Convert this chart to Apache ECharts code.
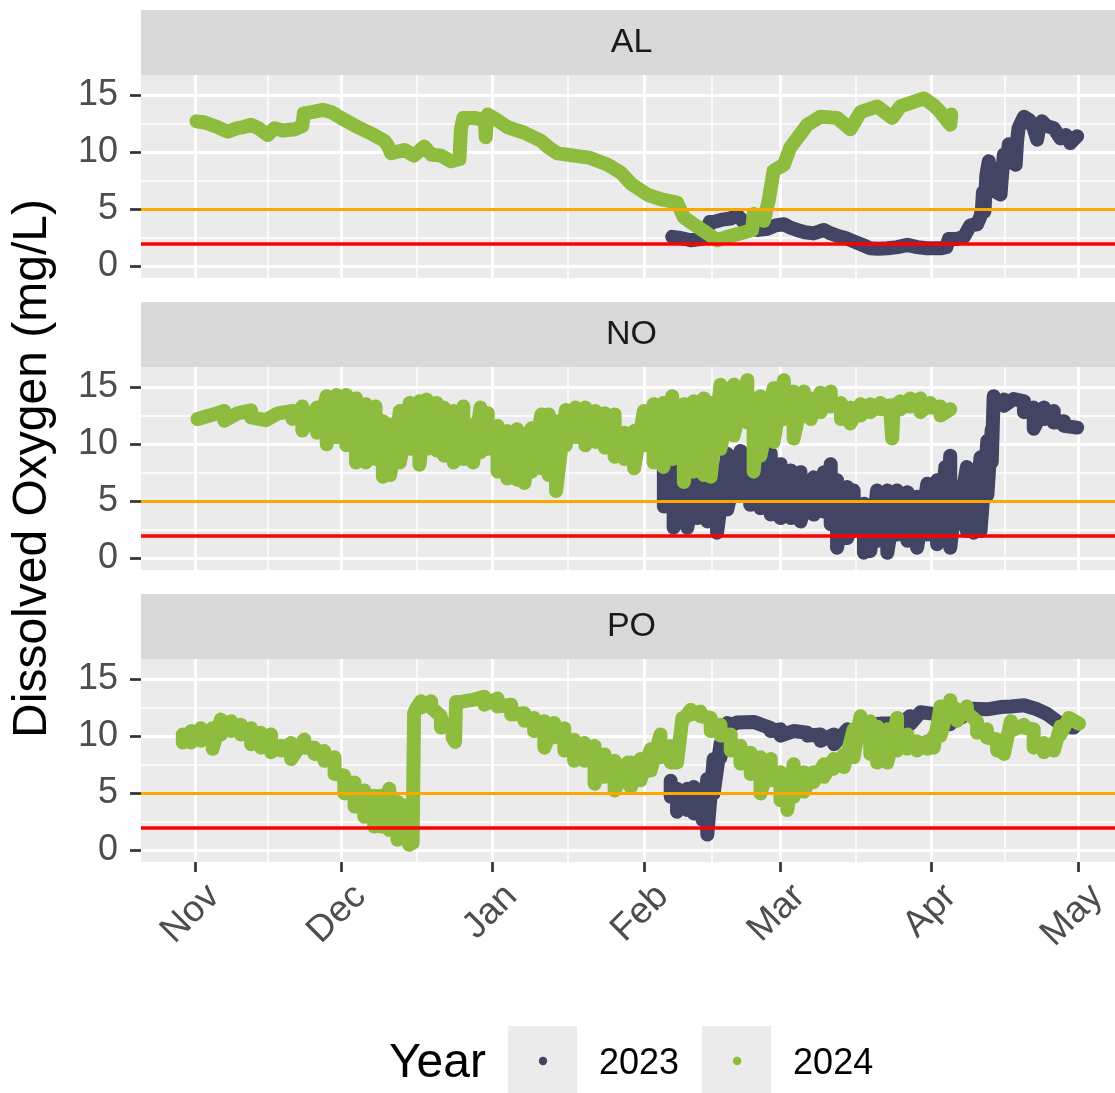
<!DOCTYPE html>
<html>
<head>
<meta charset="utf-8">
<title>Dissolved oxygen by site</title>
<script src="https://cdn.jsdelivr.net/npm/echarts@6/dist/echarts.min.js"></script>
<style>
  html, body { margin: 0; padding: 0; background: #ffffff; }
  #chart { width: 1115px; height: 1093px; }
</style>
</head>
<body>
<div id="chart"></div>
<script>
// Time is measured in days since 1 November (non-leap season calendar).
// Readings are [day, value] for a single trace, or [day, high, low] where the
// logger record swings between a high and a low within the same day.

const sites = ['AL', 'NO', 'PO'];
const years = ['2023', '2024'];
const yearColors = ['#414563', '#8DBC3E'];

const monthNames = ['Nov', 'Dec', 'Jan', 'Feb', 'Mar', 'Apr', 'May'];
const monthStartDays = [0, 30, 61, 92, 120, 151, 181];
const midMonthDays = [15, 45.5, 76.5, 106, 135.5, 166];

const yTicks = [0, 5, 10, 15];
const yMinorTicks = [2.5, 7.5, 12.5];

// Dissolved-oxygen thresholds (mg/L)
const thresholdValues = [5, 2];
const thresholdColors = ['#FFA500', '#FF0000'];

// ---- AL ----
const alDO2023 = [
  [97.8, 2.6], [99.5, 2.5], [101.6, 2.3], [103.6, 2.4], [104.5, 2.6], [105.5, 3.9],
  [106.3, 3.9], [108, 4.1], [109.8, 4.2], [111.1, 4.5], [112.5, 3.9], [113.2, 3.5],
  [115.2, 3.2], [117.3, 3.3], [119, 3.6], [120.7, 3.7], [122, 3.4], [123.4, 3.2],
  [125, 3.0], [126.8, 2.9], [128.9, 3.2], [130.3, 2.9], [131.6, 2.7], [133.3, 2.5],
  [135, 2.2], [136.7, 1.9], [138.4, 1.6], [140, 1.55], [141.9, 1.6], [144, 1.7],
  [146, 1.9], [148, 1.7], [150, 1.6], [152.8, 1.6], [154, 1.7], [154.5, 2.4],
  [156, 2.4], [157.6, 2.6], [158.9, 3.6], [160.3, 3.7], [161, 4.4], [161.3, 5.0],
  [161.5, 6.5], [161.8, 4.8], [162.2, 8.0], [162.7, 9.2], [163.2, 7.0], [163.7, 7.5],
  [164.3, 6.5], [165.1, 6.3], [165.5, 8.5], [165.8, 9.8], [166.3, 9.0], [166.8, 10.7],
  [167.5, 9.5], [168.2, 8.9], [168.5, 11.0], [168.8, 12.1], [169.9, 13.1], [171, 12.8],
  [171.9, 12.1], [172.6, 11.1], [173.1, 12.3], [173.6, 12.7], [174.5, 12.3], [176, 12.1],
  [177.4, 11.2], [178.5, 11.5], [179.4, 10.8], [180.8, 11.4]
];
const alDO2024 = [
  [0.3, 12.7], [2, 12.6], [4.6, 12.2], [6.7, 11.8], [8.7, 12.1], [10, 12.2], [11.5, 12.4],
  [13, 12.1], [14.9, 11.5], [16.3, 12.1], [18, 11.9], [20.4, 12.0], [22, 12.3], [22.3, 13.4],
  [24, 13.5], [26.2, 13.7], [28, 13.5], [29.9, 13.0], [33.3, 12.2], [36.7, 11.5], [38.8, 11.0],
  [39.5, 10.6], [40.2, 9.9], [42.9, 10.2], [44.9, 9.7], [47, 10.5], [48.4, 9.8], [50.4, 9.7],
  [52.5, 9.2], [54.2, 9.4], [54.5, 12.0], [55, 13.0], [57.2, 13.0], [59.4, 12.8], [59.6, 11.3],
  [59.8, 12.6], [60, 13.3], [62, 12.8], [64, 12.2], [67.5, 11.7], [70.9, 11.0], [72.5, 10.4],
  [74.3, 9.9], [77.7, 9.7], [81, 9.5], [84.6, 8.9], [87.3, 8.2], [89.5, 7.2], [92.7, 6.3],
  [95.4, 5.9], [98.8, 5.6], [100.2, 4.3], [102.2, 3.7], [105, 2.9], [107, 2.3], [109.1, 2.6],
  [111.8, 2.9], [114.2, 3.2], [114.5, 4.6], [116.6, 4.0], [117.6, 5.8], [118.6, 8.4],
  [120.7, 8.9], [122, 10.4], [123.4, 11.2], [125.5, 12.4], [128.2, 13.1], [131.6, 13.0],
  [134.3, 12.0], [136.4, 13.5], [139.8, 14.0], [142.9, 13.0], [144.6, 14.0], [147.3, 14.4],
  [149.4, 14.7], [151.4, 14.1], [152.8, 13.5], [154.8, 12.4], [155, 13.3]
];

// ---- NO ----
const noDO2023 = [
  [96.1, 8.55, 4.55], [98.1, 9.4, 2.7], [100.9, 9.7, 2.7], [102.9, 7.1, 3.55], [105, 7.1, 3.25],
  [107, 7.7, 2.25], [109.1, 9.15, 4.3], [111.8, 9.4, 5.55], [113.8, 8.55, 4.7], [115.9, 8.25, 4.4],
  [118, 9.15, 3.85], [120, 8.25, 3.55], [122.1, 7.7, 3.55], [124.1, 7.55, 3.25], [126.8, 7.1, 3.85],
  [128.9, 7.55, 4.1], [130.3, 8.25, 3.0], [131.6, 6.85, 0.95], [133.7, 6.25, 1.8], [135, 5.95, 2.4],
  [137.1, 4.8, 0.5], [138.4, 4.5, 0.65], [139.8, 5.95, 1.55], [141.9, 5.95, 0.5], [143.9, 5.95, 2.1],
  [146, 5.8, 1.55], [148, 5.4, 0.95], [150.1, 6.55, 2.1], [152.1, 6.85, 1.25], [153.8, 8.0, 1.8],
  [154.8, 9.0, 0.95], [156.2, 6.25, 3.0], [158.2, 8.0, 2.4], [159.6, 6.85, 2.25], [161, 8.85, 2.4],
  [162.4, 10.3, 5.55], [163.3, 11.3, 8.45], [163.7, 14.2, 13.35], [165.8, 13.9, 13.35],
  [167.8, 13.95, 13.85], [169.9, 13.75, 12.8], [171.9, 13.2, 11.35], [174, 13.2, 12.2],
  [176, 12.9, 11.9], [178.1, 12.0, 11.6], [180.8, 11.45, 11.35]
];
const noDO2024 = [
  [0.5, 12.2], [3, 12.5], [6, 12.9, 12.05], [8.7, 12.7], [11.5, 12.95, 12.35], [14.5, 12.1],
  [17, 12.7], [20, 12.9, 12.2], [22, 13.3, 11.2], [25, 13.2, 11.0], [27, 14.2, 10.0],
  [29, 14.3, 10.6], [31, 14.3, 9.9], [33, 14.0, 8.4], [35, 13.5, 8.4], [37, 13.3, 8.7],
  [38.5, 12.0, 7.15], [40, 11.7, 7.3], [42, 12.9, 8.4], [44, 13.6, 9.6], [46, 13.75, 8.2],
  [47.5, 13.9, 9.6], [49.5, 13.6, 9.45], [51, 13.2, 9.0], [53, 12.9, 8.4], [55, 13.3, 8.7],
  [57, 11.7, 8.4], [58.5, 13.2, 9.3], [60, 12.7, 9.6], [62, 11.6, 7.6], [64, 11.15, 7.0],
  [66, 11.3, 6.9], [67.5, 10.9, 6.6], [69, 11.4, 7.6], [71, 12.6, 7.9], [72.5, 12.6, 7.3],
  [74, 12.0, 5.9], [76, 13.0, 9.9], [78, 13.2, 10.6], [80, 13.2, 9.9], [82, 12.9, 10.2],
  [84, 12.7, 9.7], [86, 12.6, 8.9], [88, 11.0, 8.7], [90, 11.15, 7.9], [92, 12.9, 9.9],
  [94, 13.5, 8.4], [96, 13.6, 8.0], [97.8, 14.2, 8.7], [100.2, 13.5, 6.7], [102.2, 13.75, 7.6],
  [104.3, 14.0, 7.3], [105.7, 13.6, 7.15], [107.7, 15.2, 9.6], [110.4, 15.2, 10.75],
  [113.2, 15.6, 11.9], [114.5, 14.0, 7.6], [115.9, 14.2, 9.0], [118.6, 14.9, 10.2],
  [120.7, 15.6, 12.2], [122.7, 14.6, 10.5], [124.8, 14.6, 13.05], [126.2, 14.0, 12.2],
  [128.2, 14.5, 12.8], [130.3, 14.6, 13.3], [132.4, 13.6, 12.2], [134.3, 13.2, 11.8],
  [136.4, 13.5, 12.5], [138.4, 13.5, 12.8], [140.5, 13.6, 13.05], [142.5, 13.4, 12.9],
  [142.9, 10.5], [143.2, 13.3], [144.6, 13.75, 13.05], [146.6, 14.0, 13.3], [148.7, 14.0, 12.8],
  [150.7, 13.6, 13.2], [152.8, 13.3, 12.5], [154.8, 13.05]
];

// ---- PO ----
const poDO2023 = [
  [97.5, 6.1, 4.7], [98.8, 5.4, 3.4], [100.9, 5.4, 3.55], [102.2, 5.55, 3.25], [104, 4.5, 2.7],
  [105, 6.25, 1.4], [106.3, 8.0, 5.0], [107.7, 9.3, 8.15], [109.1, 11.15, 10.75], [111.1, 11.2],
  [114.5, 11.25], [118, 10.7, 10.45], [120, 10.6, 10.05], [122.7, 10.45], [125.5, 10.3, 10.05],
  [128.2, 10.15, 9.6], [131, 10.15, 9.3], [133.7, 10.6, 9.9], [136.4, 11.0], [140.5, 11.1],
  [144.6, 11.1], [146.6, 11.75, 11.05], [148.7, 12.1], [151.4, 11.95], [154.8, 11.75, 11.05],
  [156.9, 12.15, 11.6], [159.6, 12.4], [162.3, 12.35], [165.1, 12.55], [167.2, 12.6],
  [169.9, 12.7], [172.6, 12.35], [174.6, 11.95], [176.7, 11.3], [178.8, 10.8], [180.1, 10.75]
];
const poDO2024 = [
  [-2.5, 10.15, 9.45], [-0.8, 10.45, 9.45], [1.2, 10.7, 9.6], [3.6, 10.7, 8.9], [5.3, 11.45, 10.15],
  [7.4, 11.3, 10.45], [9.4, 11.0, 10.15], [11.5, 10.7, 9.3], [13.5, 10.3, 9.0], [15.6, 10.15, 8.6],
  [17.6, 9.15, 8.75], [19.7, 9.4, 8.0], [22.4, 9.7, 9.0], [24.5, 9.0, 8.45], [26.5, 8.7, 7.85],
  [28.6, 8.15, 6.7], [30.6, 6.55, 5.0], [32.7, 5.95, 3.85], [34.7, 5.25, 2.95], [36.7, 4.8, 2.1],
  [38.1, 4.8, 2.1], [39.8, 5.4, 1.8], [41.5, 4.25, 0.95], [42.9, 3.95, 1.55], [43.9, 3.65, 0.5],
  [44.6, 4.25, 0.65], [44.9, 12.0], [45.3, 12.4], [46.3, 13.05, 12.5], [48.4, 13.05, 12.5],
  [50.4, 11.75, 10.75], [52.8, 11.15, 9.9], [53.3, 9.5], [53.5, 13.0], [54.5, 13.0], [57.2, 13.2],
  [59.3, 13.45, 12.75], [62, 13.3, 12.6], [64.8, 12.75, 11.9], [67.5, 12.0, 11.35],
  [69.5, 11.6, 10.45], [71.6, 11.3, 9.0], [73.6, 11.15, 9.9], [75.7, 10.7, 8.75],
  [77.7, 9.7, 7.85], [79.8, 9.4, 7.85], [81.9, 9.15, 5.85], [83.9, 8.4, 6.45], [86, 7.85, 5.25],
  [88.7, 7.7, 5.85], [89.3, 7.7, 5.55], [91.3, 8.0, 6.15], [93.4, 8.85, 7.0], [95.4, 10.15, 8.15],
  [97.5, 9.15, 7.7], [98.8, 7.7], [99.9, 11.6, 11.35], [101.6, 12.3, 11.9], [103.6, 12.15, 11.75],
  [105.7, 11.6, 10.45], [107.7, 11.0, 10.05], [109.8, 10.15, 8.75], [111.8, 9.15, 7.6],
  [113.9, 8.55, 6.7], [115.9, 8.15, 5.0], [118, 8.0, 6.15], [120, 6.85, 4.4], [121.4, 6.55, 3.55],
  [122.7, 7.55, 4.7], [124.8, 6.85, 5.15], [126.8, 6.85, 6.0], [128.9, 7.55, 6.45],
  [130.9, 8.0, 7.15], [133, 8.4, 7.3], [135, 10.6, 8.15], [136.4, 11.75, 9.9], [138.4, 11.3, 8.45],
  [139.8, 10.85, 7.7], [141.9, 10.6, 7.7], [143.9, 11.6, 8.75], [146, 10.15, 8.9],
  [148, 9.55, 8.75], [150.1, 9.55, 8.9], [151.4, 10.0, 9.0], [152.8, 12.6, 10.05],
  [154.8, 13.15, 12.75], [156.2, 12.3, 11.35], [158.2, 12.6, 12.05], [160.3, 11.3, 10.3],
  [162.3, 10.6, 9.9], [164.4, 9.7, 8.75], [165.8, 8.85, 8.45], [167.2, 11.3, 10.45],
  [169.9, 11.0, 10.75], [171.9, 10.6, 9.0], [174, 9.4, 8.6], [176, 9.4, 8.75],
  [177.4, 10.85, 10.15], [179.1, 11.6], [181.2, 11.1]
];

const readingsBySite = [
  [alDO2023, alDO2024],
  [noDO2023, noDO2024],
  [poDO2023, poDO2024]
];

// ---- layout ----
const FONT = '"Liberation Sans", Arial, Helvetica, sans-serif';
const X_MIN = -11.07, X_MAX = 190;
const Y_MIN = -1, Y_MAX = 16.75;
const PANEL_LEFT = 141, PANEL_WIDTH = 981, PANEL_TOP = 75, PANEL_HEIGHT = 203, PANEL_STEP = 292;
const STRIP_HEIGHT = 65;
const PANEL_BG = '#EBEBEB', STRIP_BG = '#D9D9D9', GRID_LINE = '#FFFFFF';
const AXIS_TEXT = '#4D4D4D', TICK_COLOR = '#333333';

// Each reading becomes one point, or a high/low pair stacked on its day.
function toPath(readings) {
  const pts = [];
  readings.forEach(r => {
    pts.push([r[0], r[1]]);
    if (r.length > 2) pts.push([r[0], r[2]]);
  });
  return pts;
}

function keyIcon(color) {
  const svg = '<svg xmlns="http://www.w3.org/2000/svg" width="86" height="69">' +
    '<rect x="0" y="0" width="69" height="69" fill="' + PANEL_BG + '"/>' +
    '<circle cx="35" cy="35" r="4.2" fill="' + color + '"/></svg>';
  return 'image://data:image/svg+xml;charset=utf-8,' + encodeURIComponent(svg);
}

const grid = sites.map((s, k) => ({
  left: PANEL_LEFT, top: PANEL_TOP + k * PANEL_STEP,
  width: PANEL_WIDTH, height: PANEL_HEIGHT,
  show: true, backgroundColor: PANEL_BG, borderWidth: 0,
  containLabel: false, outerBoundsMode: 'none'
}));

const isBottom = k => k === sites.length - 1;

const xAxis = [];
const yAxis = [];
sites.forEach((s, k) => {
  xAxis.push({
    type: 'value', gridIndex: k, min: X_MIN, max: X_MAX, position: 'bottom',
    axisLine: { show: false, onZero: false },
    axisTick: {
      show: true, customValues: monthStartDays, length: isBottom(k) ? 10 : 0,
      lineStyle: { color: isBottom(k) ? TICK_COLOR : 'rgba(0,0,0,0)', width: 2.7 }
    },
    axisLabel: {
      show: isBottom(k), customValues: monthStartDays, rotate: 45, margin: 10,
      align: 'right', verticalAlign: 'top', padding: [8, 0, 0, 0],
      fontSize: 37, color: AXIS_TEXT, fontFamily: FONT,
      formatter: v => monthNames[monthStartDays.indexOf(v)]
    },
    splitLine: { show: true, lineStyle: { color: GRID_LINE, width: 3 } }
  });
  yAxis.push({
    type: 'value', gridIndex: k, min: Y_MIN, max: Y_MAX, position: 'left',
    axisLine: { show: false, onZero: false },
    axisTick: { show: true, customValues: yTicks, length: 11, lineStyle: { color: TICK_COLOR, width: 2.7 } },
    axisLabel: {
      show: true, customValues: yTicks, margin: 23, fontSize: 36, color: AXIS_TEXT, fontFamily: FONT
    },
    splitLine: { show: true, lineStyle: { color: GRID_LINE, width: 3 } },
    name: k === 1 ? 'Dissolved Oxygen (mg/L)' : '',
    nameLocation: 'middle', nameGap: 84, nameRotate: 90,
    nameTextStyle: { fontSize: 48, color: '#000000', fontFamily: FONT }
  });
});
// minor grid lines at mid-month and between the labelled values
sites.forEach((s, k) => {
  xAxis.push({
    type: 'value', gridIndex: k, min: X_MIN, max: X_MAX, position: 'bottom',
    axisLine: { show: false, onZero: false },
    axisTick: { show: true, customValues: midMonthDays, length: 0, lineStyle: { color: 'rgba(0,0,0,0)' } },
    axisLabel: { show: false, customValues: midMonthDays },
    splitLine: { show: true, lineStyle: { color: GRID_LINE, width: 1.5 } }
  });
  yAxis.push({
    type: 'value', gridIndex: k, min: Y_MIN, max: Y_MAX, position: 'left',
    axisLine: { show: false, onZero: false },
    axisTick: { show: true, customValues: yMinorTicks, length: 0, lineStyle: { color: 'rgba(0,0,0,0)' } },
    axisLabel: { show: false, customValues: yMinorTicks },
    splitLine: { show: true, lineStyle: { color: GRID_LINE, width: 1.5 } }
  });
});

const series = [];
sites.forEach((s, k) => {
  years.forEach((yr, i) => {
    const item = {
      type: 'line', name: yr, xAxisIndex: k, yAxisIndex: k,
      data: toPath(readingsBySite[k][i]),
      showSymbol: false, symbol: 'none', silent: true, animation: false,
      itemStyle: { color: yearColors[i] },
      lineStyle: { color: yearColors[i], width: 14, cap: 'round', join: 'round' },
      z: 2 + i
    };
    if (i === years.length - 1) {
      item.markLine = {
        silent: true, symbol: 'none', animation: false, label: { show: false },
        data: thresholdValues.map((v, j) => ({
          yAxis: v, lineStyle: { color: thresholdColors[j], type: 'solid', width: j === 0 ? 3 : 3.5 }
        }))
      };
    }
    series.push(item);
  });
});

const graphic = [];
sites.forEach((s, k) => {
  const top = PANEL_TOP + k * PANEL_STEP - STRIP_HEIGHT;
  graphic.push({
    type: 'rect', left: PANEL_LEFT, top: top, silent: true,
    shape: { width: PANEL_WIDTH, height: STRIP_HEIGHT }, style: { fill: STRIP_BG }
  });
  graphic.push({
    type: 'text', x: PANEL_LEFT + PANEL_WIDTH / 2, y: top + STRIP_HEIGHT / 2, silent: true,
    style: { text: s, fontSize: 34, fontFamily: FONT, fill: '#1A1A1A', align: 'center', verticalAlign: 'middle' }
  });
});
graphic.push({
  type: 'text', x: 389, y: 1064, silent: true,
  style: { text: 'Year', fontSize: 48, fontFamily: FONT, fill: '#000000', align: 'left', verticalAlign: 'middle' }
});

const chart = echarts.init(document.getElementById('chart'), null, { renderer: 'canvas' });
chart.setOption({
  animation: false,
  backgroundColor: '#FFFFFF',
  textStyle: { fontFamily: FONT },
  grid: grid,
  xAxis: xAxis,
  yAxis: yAxis,
  series: series,
  graphic: graphic,
  legend: {
    left: 508, top: 1026, orient: 'horizontal', padding: 0,
    itemWidth: 86, itemHeight: 69, itemGap: 23, selectedMode: false,
    formatter: '{t|{name}}',
    textStyle: {
      fontSize: 36, color: '#000000', fontFamily: FONT,
      rich: { t: { fontSize: 36, color: '#000000', fontFamily: FONT, padding: [8, 0, 0, 0] } }
    },
    data: years.map((yr, i) => ({ name: yr, icon: keyIcon(yearColors[i]) }))
  }
});
</script>
</body>
</html>
